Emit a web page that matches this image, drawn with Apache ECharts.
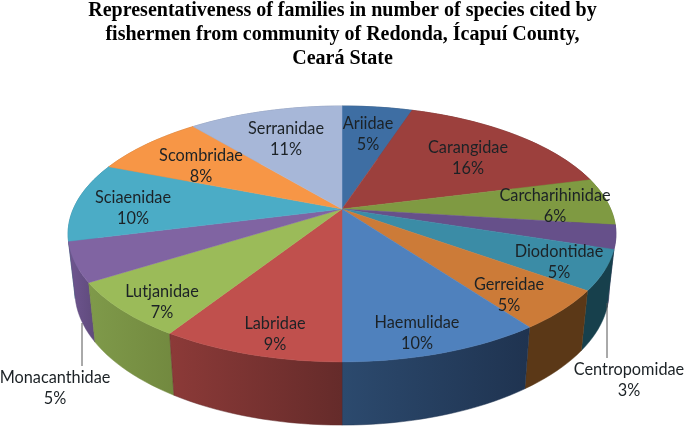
<!DOCTYPE html>
<html>
<head>
<meta charset="utf-8">
<script src="https://cdn.jsdelivr.net/npm/echarts@6/dist/echarts.min.js"></script>
<style>
  html, body { margin: 0; padding: 0; background: #fff; }
  #main { width: 685px; height: 427px; }
</style>
</head>
<body>
<div id="main"></div>
<script>
const titleText = 'Representativeness of families in number of species cited by\nfishermen from community of Redonda, Ícapuí County,\nCeará State';
const families = ['Ariidae', 'Carangidae', 'Carcharihinidae', 'Centropomidae', 'Diodontidae', 'Gerreidae', 'Haemulidae', 'Labridae', 'Lutjanidae', 'Monacanthidae', 'Sciaenidae', 'Scombridae', 'Serranidae'];
const percents = [5, 16, 6, 3, 5, 5, 10, 9, 7, 5, 10, 8, 11];

// styles
const topColors = ['#3e6ea3', '#9c403d', '#7f9a42', '#66508a', '#3b8ca6', '#cc7b38', '#4f81bd', '#c0504d', '#9bbb59', '#8064a2', '#4bacc6', '#f79646', '#a7b7d8'];
const wallLeft = ['#2b4667', '#652b2a', '#5c7030', '#4a3a66', '#17404c', '#5b3817', '#2c4a6e', '#8c3a38', '#7f9a4a', '#6f5690', '#357d91', '#b56c30', '#7a86a0'];
const wallRight = ['#2b4667', '#652b2a', '#5c7030', '#4a3a66', '#17404c', '#5b3817', '#1f3350', '#652b2a', '#72893f', '#5f4a7c', '#357d91', '#b56c30', '#7a86a0'];

// label centres (x, y of name line), hand placed like in the original
const labelPos = [[368, 123], [468, 147], [555, 195], [629, 369], [559, 251], [509, 284], [417, 322], [275, 323], [162, 291], [55, 377], [133, 197], [201, 155], [286, 128]];
const leaders = { 3: [[607, 303], [607, 358]], 9: [[82, 323], [82, 366]] };

// projection of the tilted disc
const apexX = 342, apexY = 209, scaleX = 268.7, scaleY = 123.1, tilt = 0.195;
const wallX = 0.975, wallY = 1.047, wallApexY = 265;

const total = percents.reduce((a, b) => a + b, 0);
const cumul = [0];
percents.forEach((v, i) => cumul.push(cumul[i] + v));

function rim(frac, bottom) {
  const th = frac * Math.PI * 2;
  const a = Math.sin(th), b = -Math.cos(th);
  const w = 1 - tilt * b;
  if (bottom) return [apexX + wallX * scaleX * a / w, wallApexY + wallY * scaleY * b / w];
  return [apexX + scaleX * a / w, apexY + scaleY * b / w];
}

function arc(i, bottom) {
  const pts = [];
  const n = Math.max(4, percents[i] * 2);
  for (let k = 0; k <= n; k++) {
    pts.push(rim((cumul[i] + percents[i] * k / n) / total, bottom));
  }
  return pts;
}

function renderWall(params) {
  const i = params.dataIndex;
  const pts = arc(i, false).concat(arc(i, true).reverse());
  // nearer walls go on top of the ones behind them
  const mid = (cumul[i] + percents[i] / 2) / total;
  return {
    type: 'polygon',
    z2: Math.round(100 - 50 * Math.cos(mid * Math.PI * 2)),
    shape: { points: pts },
    style: {
      fill: new echarts.graphic.LinearGradient(0, 0, 1, 0, [
        { offset: 0, color: wallLeft[i] },
        { offset: 1, color: wallRight[i] }
      ]),
      stroke: wallRight[i],
      lineWidth: 0.5
    }
  };
}

function renderTop(params) {
  const i = params.dataIndex;
  return {
    type: 'polygon',
    shape: { points: [[apexX, apexY]].concat(arc(i, false)) },
    style: { fill: topColors[i], stroke: topColors[i], lineWidth: 0.5 }
  };
}

function renderLabel(params, api) {
  const i = params.dataIndex;
  const children = [];
  if (leaders[i]) {
    children.push({
      type: 'polyline',
      shape: { points: leaders[i] },
      style: { stroke: '#555', lineWidth: 1, fill: null }
    });
  }
  children.push({
    type: 'text',
    style: {
      x: labelPos[i][0],
      y: labelPos[i][1] - 10,
      text: families[i] + '\n' + api.value(0) + '%',
      align: 'center',
      verticalAlign: 'top',
      fill: '#1c2226',
      font: '16.3px Lato',
      lineHeight: 21
    }
  });
  return { type: 'group', children: children };
}

const chart = echarts.init(document.getElementById('main'));
chart.setOption({
  animation: false,
  title: {
    text: titleText,
    left: 'center',
    top: -6,
    textStyle: {
      fontFamily: 'Liberation Serif',
      fontWeight: 'bold',
      fontSize: 20,
      lineHeight: 24,
      color: '#000'
    }
  },
  series: [
    { type: 'custom', coordinateSystem: 'none', z: 1, silent: true, data: percents, renderItem: renderWall },
    { type: 'custom', coordinateSystem: 'none', z: 2, silent: true, data: percents, renderItem: renderTop },
    { type: 'custom', coordinateSystem: 'none', z: 3, silent: true, data: percents, renderItem: renderLabel }
  ]
});
</script>
</body>
</html>
